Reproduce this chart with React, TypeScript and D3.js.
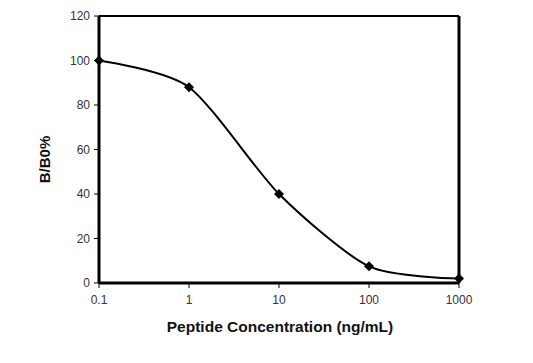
import React from 'react';
import * as d3 from 'd3';

const concentrations = [0.1, 1, 10, 100, 1000];
const bOverB0 = [100, 88, 40, 7.5, 2];
const yTicks = [0, 20, 40, 60, 80, 100, 120];
const xTickLabels = ['0.1', '1', '10', '100', '1000'];

const W = 533;
const H = 363;
const margin = { left: 99, right: 74, top: 16, bottom: 80 };

const App: React.FC = () => {
    const x = d3.scaleLog().domain([0.1, 1000]).range([margin.left, W - margin.right]);
    const y = d3.scaleLinear().domain([0, 120]).range([H - margin.bottom, margin.top]);

    const pts: [number, number][] = concentrations.map((c, i) => [x(c), y(bOverB0[i])]);
    const line = d3.line().curve(d3.curveCardinal.tension(0.25));
    const diamond = d3.symbol().type(d3.symbolDiamond2).size(64);

    const font = '"Liberation Sans", Arial, sans-serif';
    const x0 = margin.left, x1 = W - margin.right;
    const y0 = H - margin.bottom, y1 = margin.top;

    return (
        <svg width={W} height={H} style={{ position: 'absolute', left: 0, top: 0 }} fontFamily={font}>
            <rect width={W} height={H} fill="#fff" />
            {/* frame */}
            <line x1={x0} x2={x1} y1={y1} y2={y1} stroke="#000" strokeWidth={2} />
            <line x1={x1} x2={x1} y1={y1} y2={y0} stroke="#000" strokeWidth={3} />
            <line x1={x0} x2={x1} y1={y0} y2={y0} stroke="#000" strokeWidth={3} />
            <line x1={x0} x2={x0} y1={y1} y2={y0} stroke="#000" strokeWidth={3} />
            {/* y ticks */}
            {yTicks.map(t => (
                <g key={t}>
                    <line x1={x0 - 5} x2={x0} y1={y(t)} y2={y(t)} stroke="#000" strokeWidth={1} />
                    <text x={x0 - 9} y={y(t)} dy="0.35em" textAnchor="end" fontSize={12} fill="#333">{t}</text>
                </g>
            ))}
            {/* x ticks */}
            {concentrations.map((c, i) => (
                <g key={c}>
                    <line x1={x(c)} x2={x(c)} y1={y0} y2={y0 + 5} stroke="#000" strokeWidth={1} />
                    <text x={x(c)} y={y0 + 21} textAnchor="middle" fontSize={12} fill="#333">{xTickLabels[i]}</text>
                </g>
            ))}
            {/* curve */}
            <path d={line(pts) || ''} fill="none" stroke="#000" strokeWidth={2} />
            {pts.map(([px, py], i) => (
                <path key={i} d={diamond() || ''} transform={`translate(${px},${py})`} fill="#000" />
            ))}
            {/* titles */}
            <text x={(x0 + x1) / 2 + 1} y={332} textAnchor="middle" fontSize={15.5} fontWeight="bold" fill="#111">
                Peptide Concentration (ng/mL)
            </text>
            <text transform={`translate(45,${(y0 + y1) / 2 + 10}) rotate(-90)`} dy="0.35em" textAnchor="middle" fontSize={15} fontWeight="bold" fill="#111">
                B/B0%
            </text>
        </svg>
    );
};

export default App;
